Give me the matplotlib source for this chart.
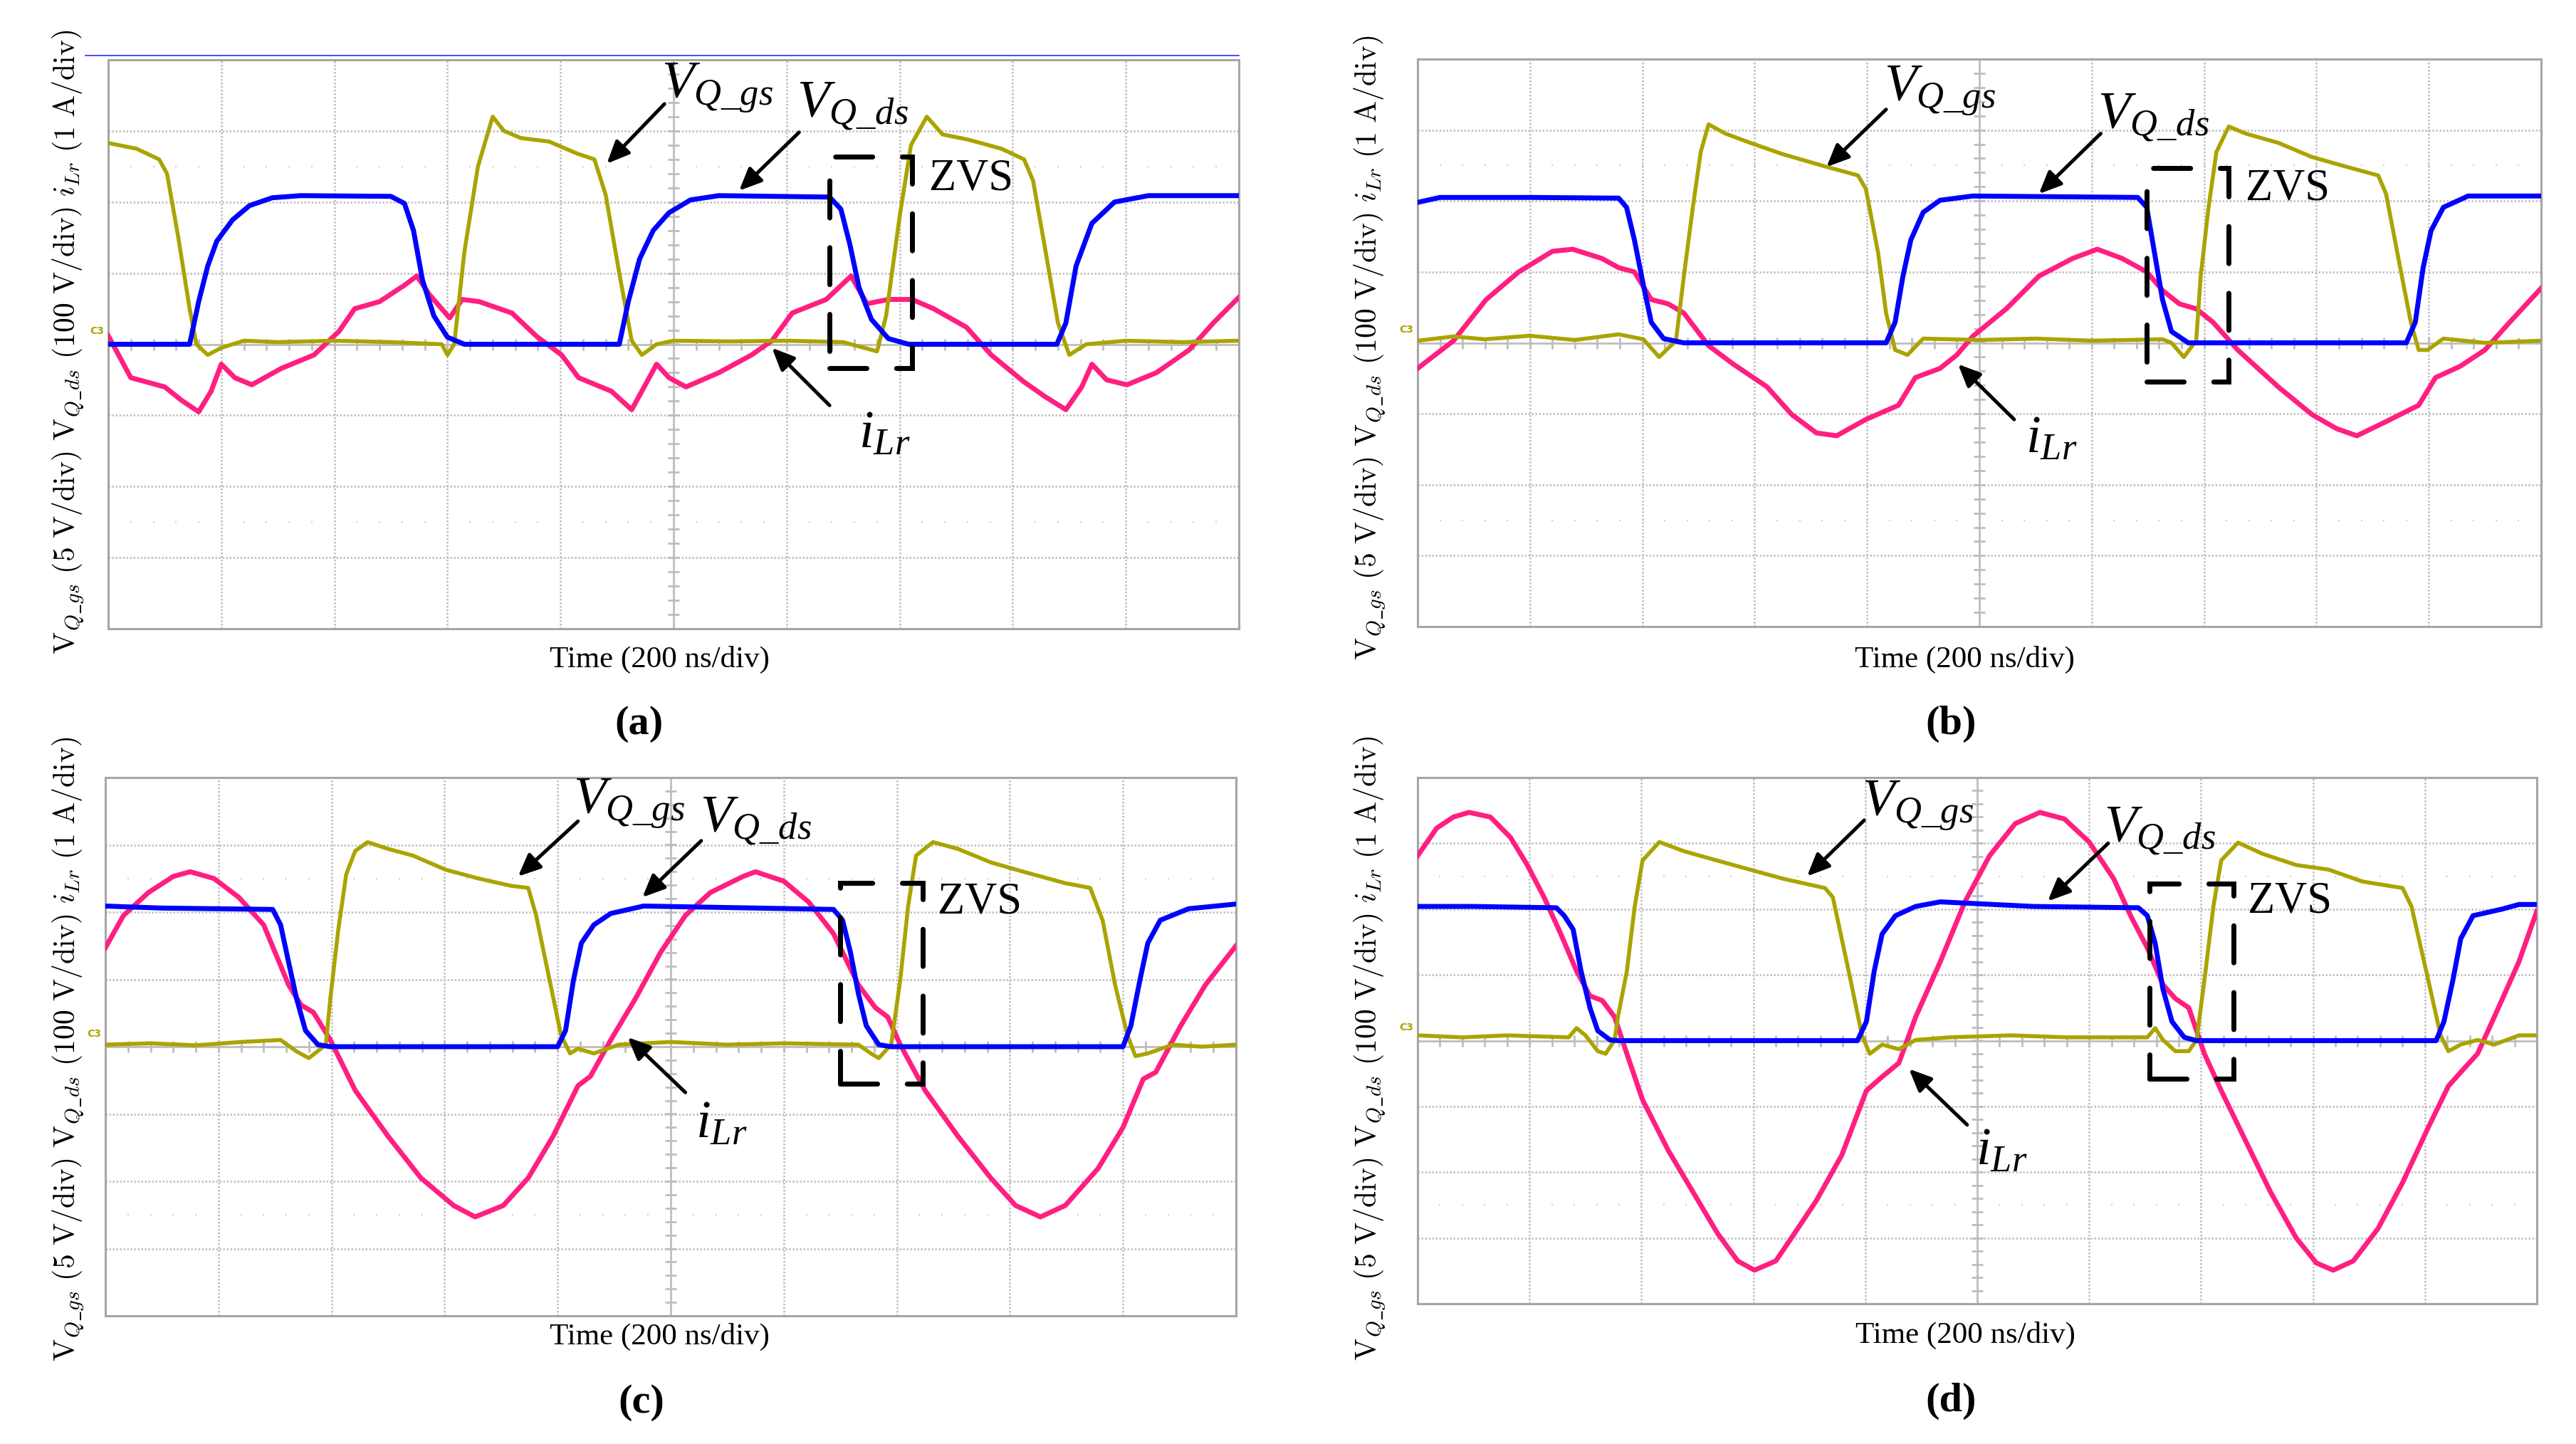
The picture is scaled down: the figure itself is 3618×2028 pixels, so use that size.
import numpy as np
import matplotlib
matplotlib.use('Agg')
import matplotlib.pyplot as plt
from matplotlib.patches import Rectangle
from matplotlib.lines import Line2D

plt.rcParams['font.family'] = ['Liberation Serif', 'DejaVu Serif']
plt.rcParams['mathtext.fontset'] = 'custom'
plt.rcParams['mathtext.rm'] = 'Liberation Serif'
plt.rcParams['mathtext.it'] = 'Liberation Serif:italic'
plt.rcParams['mathtext.bf'] = 'Liberation Serif:bold'

# ---------------- data (time in div, amplitude in div) ----------------
# panel (a)
A_VDS = [(0, 0.0), (0.72, 0.0), (0.80, 0.6), (0.88, 1.1), (0.96, 1.45), (1.1, 1.75), (1.25, 1.95),
         (1.45, 2.06), (1.7, 2.09), (2.5, 2.08), (2.62, 1.98), (2.7, 1.6), (2.78, 0.9), (2.88, 0.4),
         (3.0, 0.1), (3.15, 0.0), (4.52, 0.0), (4.60, 0.6), (4.70, 1.2), (4.82, 1.6), (4.96, 1.85),
         (5.15, 2.03), (5.4, 2.09), (6.38, 2.07), (6.48, 1.9), (6.56, 1.4), (6.64, 0.8), (6.75, 0.35),
         (6.9, 0.08), (7.08, 0.0), (8.39, 0.0), (8.47, 0.3), (8.56, 1.1), (8.7, 1.7), (8.9, 2.0),
         (9.2, 2.09), (10, 2.09)]
A_VGS = [(0, 2.83), (0.25, 2.75), (0.45, 2.6), (0.52, 2.4), (0.62, 1.5), (0.72, 0.5), (0.78, 0.0),
         (0.88, -0.15), (1.0, -0.05), (1.2, 0.05), (1.5, 0.03), (2.0, 0.05), (2.5, 0.03), (2.95, 0.0),
         (3.0, -0.15), (3.06, 0.0), (3.15, 1.3), (3.27, 2.5), (3.40, 3.2), (3.50, 3.0), (3.65, 2.9),
         (3.9, 2.85), (4.15, 2.68), (4.3, 2.6), (4.4, 2.1), (4.52, 1.0), (4.63, 0.05), (4.72, -0.15),
         (4.85, 0.0), (5.0, 0.05), (5.5, 0.04), (6.0, 0.05), (6.5, 0.03), (6.8, -0.1), (6.88, 0.4),
         (7.0, 1.8), (7.1, 2.8), (7.24, 3.2), (7.38, 2.95), (7.6, 2.88), (7.9, 2.75), (8.1, 2.6),
         (8.18, 2.3), (8.28, 1.4), (8.4, 0.3), (8.5, -0.15), (8.65, 0.0), (9.0, 0.05), (9.5, 0.03),
         (10, 0.05)]
A_ILR = [(0, 0.12), (0.2, -0.47), (0.5, -0.6), (0.65, -0.79), (0.8, -0.95), (0.91, -0.66), (1.0, -0.28),
         (1.12, -0.47), (1.27, -0.57), (1.53, -0.34), (1.82, -0.15), (2.04, 0.18), (2.18, 0.5),
         (2.40, 0.6), (2.62, 0.83), (2.73, 0.96), (2.84, 0.70), (3.02, 0.37), (3.13, 0.63), (3.28, 0.60),
         (3.57, 0.44), (3.79, 0.11), (4.01, -0.15), (4.16, -0.47), (4.45, -0.66), (4.63, -0.92),
         (4.74, -0.60), (4.85, -0.28), (4.96, -0.47), (5.11, -0.60), (5.40, -0.40), (5.69, -0.15),
         (5.87, 0.05), (6.05, 0.44), (6.35, 0.63), (6.57, 0.96), (6.71, 0.57), (6.90, 0.63), (7.11, 0.63),
         (7.30, 0.50), (7.59, 0.24), (7.81, -0.15), (8.10, -0.53), (8.28, -0.73), (8.47, -0.92),
         (8.61, -0.60), (8.70, -0.28), (8.83, -0.50), (9.01, -0.57), (9.27, -0.40), (9.56, -0.08),
         (9.78, 0.31), (10, 0.66)]

# panel (b)
B_VDS = [(0, 1.98), (0.2, 2.05), (1.0, 2.05), (1.79, 2.04), (1.86, 1.91), (1.93, 1.45), (2.01, 0.81),
         (2.08, 0.29), (2.19, 0.06), (2.37, 0.0), (4.17, 0.0), (4.25, 0.29), (4.32, 0.94), (4.39, 1.45),
         (4.50, 1.84), (4.65, 2.01), (4.94, 2.07), (6.41, 2.05), (6.49, 1.91), (6.56, 1.26), (6.63, 0.61),
         (6.71, 0.16), (6.86, 0.0), (8.80, 0.0), (8.88, 0.29), (8.95, 1.06), (9.02, 1.58), (9.13, 1.91),
         (9.35, 2.07), (10, 2.07)]
B_VGS = [(0, 0.03), (0.32, 0.09), (0.6, 0.05), (1.0, 0.1), (1.4, 0.04), (1.79, 0.12), (2.01, 0.05),
         (2.15, -0.2), (2.30, 0.03), (2.37, 0.94), (2.45, 1.91), (2.52, 2.69), (2.59, 3.08), (2.74, 2.95),
         (2.96, 2.82), (3.25, 2.66), (3.62, 2.49), (3.92, 2.36), (3.99, 2.17), (4.10, 1.26), (4.17, 0.42),
         (4.25, -0.1), (4.36, -0.17), (4.50, 0.06), (5.0, 0.04), (5.5, 0.06), (6.0, 0.03), (6.63, 0.05),
         (6.71, 0.0), (6.82, -0.2), (6.93, 0.03), (6.97, 0.94), (7.04, 1.91), (7.11, 2.69), (7.22, 3.05),
         (7.37, 2.95), (7.66, 2.82), (7.96, 2.62), (8.25, 2.49), (8.55, 2.36), (8.62, 2.10), (8.73, 1.19),
         (8.84, 0.29), (8.91, -0.1), (8.99, -0.1), (9.13, 0.06), (9.50, 0.0), (10, 0.03)]
B_ILR = [(0, -0.36), (0.32, 0.03), (0.61, 0.61), (0.90, 1.0), (1.20, 1.29), (1.38, 1.32), (1.64, 1.19),
         (1.79, 1.06), (1.93, 1.0), (2.08, 0.61), (2.23, 0.55), (2.37, 0.42), (2.59, -0.04), (2.81, -0.30),
         (3.11, -0.62), (3.33, -1.01), (3.55, -1.27), (3.73, -1.31), (3.99, -1.08), (4.28, -0.88),
         (4.43, -0.49), (4.65, -0.36), (4.80, -0.17), (4.94, 0.09), (5.24, 0.48), (5.53, 0.94),
         (5.83, 1.19), (6.05, 1.32), (6.27, 1.19), (6.49, 1.0), (6.63, 0.74), (6.78, 0.55), (6.93, 0.48),
         (7.08, 0.29), (7.30, -0.10), (7.66, -0.62), (7.96, -1.01), (8.18, -1.21), (8.36, -1.31),
         (8.62, -1.11), (8.91, -0.88), (9.06, -0.49), (9.28, -0.33), (9.50, -0.10), (9.72, 0.29),
         (10, 0.77)]

# panel (c)
C_VDS = [(0, 2.09), (0.5, 2.06), (1.0, 2.05), (1.48, 2.04), (1.55, 1.81), (1.62, 1.26), (1.69, 0.72),
         (1.77, 0.24), (1.88, 0.03), (1.99, 0.0), (4.0, 0.0), (4.07, 0.24), (4.14, 0.99), (4.21, 1.54),
         (4.32, 1.81), (4.47, 1.98), (4.76, 2.09), (6.44, 2.04), (6.52, 1.88), (6.59, 1.40), (6.66, 0.79),
         (6.73, 0.31), (6.84, 0.03), (6.95, 0.0), (9.0, 0.0), (9.07, 0.31), (9.15, 0.99), (9.22, 1.54),
         (9.33, 1.88), (9.58, 2.05), (10, 2.12)]
C_VGS = [(0, 0.03), (0.4, 0.05), (0.8, 0.02), (1.2, 0.07), (1.55, 0.1), (1.69, -0.07), (1.80, -0.17),
         (1.95, 0.03), (1.99, 0.72), (2.06, 1.74), (2.13, 2.56), (2.21, 2.91), (2.32, 3.04), (2.50, 2.94),
         (2.72, 2.84), (3.01, 2.63), (3.30, 2.50), (3.59, 2.39), (3.74, 2.36), (3.81, 1.95), (3.92, 1.06),
         (4.03, 0.17), (4.11, -0.10), (4.18, -0.03), (4.32, -0.10), (4.54, 0.03), (5.0, 0.07), (5.5, 0.03),
         (6.0, 0.05), (6.66, 0.03), (6.77, -0.10), (6.84, -0.17), (6.95, 0.03), (7.03, 0.99), (7.10, 2.09),
         (7.17, 2.84), (7.32, 3.04), (7.54, 2.94), (7.83, 2.74), (8.12, 2.60), (8.49, 2.43), (8.71, 2.36),
         (8.82, 1.88), (8.93, 0.92), (9.04, 0.17), (9.11, -0.14), (9.22, -0.10), (9.44, 0.03), (9.7, 0.0),
         (10, 0.03)]
C_ILR = [(0, 1.47), (0.16, 1.95), (0.38, 2.29), (0.60, 2.53), (0.75, 2.60), (0.96, 2.50), (1.18, 2.22),
         (1.40, 1.81), (1.62, 0.92), (1.73, 0.62), (1.84, 0.51), (1.99, 0.10), (2.21, -0.65), (2.50, -1.33),
         (2.79, -1.95), (3.08, -2.36), (3.27, -2.53), (3.52, -2.36), (3.74, -1.95), (3.96, -1.33),
         (4.18, -0.58), (4.29, -0.44), (4.47, 0.10), (4.69, 0.72), (4.91, 1.40), (5.13, 1.95), (5.35, 2.29),
         (5.64, 2.53), (5.75, 2.60), (6.0, 2.46), (6.22, 2.15), (6.44, 1.68), (6.66, 0.92), (6.81, 0.58),
         (6.92, 0.44), (7.03, 0.03), (7.25, -0.65), (7.54, -1.33), (7.83, -1.95), (8.05, -2.36),
         (8.27, -2.53), (8.49, -2.36), (8.78, -1.81), (9.0, -1.20), (9.18, -0.48), (9.29, -0.38),
         (9.51, 0.31), (9.73, 0.92), (10, 1.50)]

# panel (d)
D_VDS = [(0, 2.04), (0.5, 2.04), (1.24, 2.02), (1.31, 1.90), (1.39, 1.69), (1.46, 1.06), (1.54, 0.50),
         (1.61, 0.15), (1.72, 0.01), (1.79, 0.0), (3.93, 0.0), (4.01, 0.29), (4.08, 1.06), (4.15, 1.62),
         (4.27, 1.90), (4.45, 2.04), (4.67, 2.11), (5.5, 2.04), (6.44, 2.02), (6.52, 1.90), (6.59, 1.48),
         (6.66, 0.78), (6.74, 0.29), (6.85, 0.05), (6.96, 0.0), (9.10, 0.0), (9.17, 0.29), (9.25, 0.92),
         (9.32, 1.55), (9.43, 1.90), (9.69, 2.0), (9.84, 2.07), (10, 2.07)]
D_VGS = [(0, 0.08), (0.4, 0.05), (0.8, 0.08), (1.35, 0.05), (1.42, 0.19), (1.50, 0.08), (1.61, -0.16),
         (1.68, -0.20), (1.76, 0.01), (1.79, 0.36), (1.87, 1.06), (1.94, 2.04), (2.01, 2.74), (2.16, 3.02),
         (2.38, 2.88), (2.61, 2.77), (2.97, 2.60), (3.27, 2.46), (3.64, 2.32), (3.71, 2.18), (3.86, 0.99),
         (3.97, 0.08), (4.04, -0.20), (4.15, -0.06), (4.30, -0.13), (4.45, 0.01), (4.75, 0.05), (5.3, 0.08),
         (5.8, 0.05), (6.52, 0.05), (6.59, 0.19), (6.66, 0.01), (6.77, -0.16), (6.89, -0.16), (6.96, 0.01),
         (7.03, 0.92), (7.11, 2.04), (7.18, 2.74), (7.33, 3.01), (7.55, 2.84), (7.85, 2.67), (8.14, 2.60),
         (8.44, 2.42), (8.80, 2.32), (8.88, 2.04), (9.03, 0.92), (9.14, 0.08), (9.21, -0.16), (9.32, -0.06),
         (9.47, 0.01), (9.62, -0.06), (9.84, 0.08), (10, 0.08)]
D_ILR = [(0, 2.81), (0.17, 3.23), (0.32, 3.40), (0.46, 3.47), (0.65, 3.40), (0.83, 3.09), (0.98, 2.67),
         (1.13, 2.18), (1.28, 1.62), (1.42, 1.06), (1.54, 0.68), (1.65, 0.61), (1.76, 0.36), (1.87, -0.20),
         (2.01, -0.90), (2.24, -1.67), (2.46, -2.30), (2.68, -2.93), (2.86, -3.35), (3.01, -3.49),
         (3.20, -3.35), (3.34, -3.0), (3.56, -2.44), (3.79, -1.74), (4.01, -0.76), (4.15, -0.55),
         (4.30, -0.34), (4.45, 0.36), (4.67, 1.20), (4.89, 2.11), (5.11, 2.81), (5.34, 3.30), (5.56, 3.47),
         (5.78, 3.37), (6.0, 3.02), (6.22, 2.46), (6.37, 1.90), (6.52, 1.41), (6.66, 0.85), (6.77, 0.64),
         (6.89, 0.50), (7.03, -0.20), (7.18, -0.76), (7.40, -1.53), (7.62, -2.30), (7.85, -3.0),
         (8.03, -3.38), (8.18, -3.49), (8.36, -3.35), (8.58, -2.86), (8.80, -2.16), (9.03, -1.32),
         (9.21, -0.69), (9.32, -0.48), (9.47, -0.20), (9.62, 0.36), (9.84, 1.20), (10, 1.97)]

TIME_LABEL = 'Time (200 ns/div)'
Y_LABEL = (r'$\mathrm{V}_{Q\_gs}\ \mathrm{(5\ V/div)}\ \mathrm{V}_{Q\_ds}\ \mathrm{(100\ V/div)}\ '
           r'i_{Lr}\ \mathrm{(1\ A/div)}$')

# ---------------- layout (pixels of the 3618x2028 canvas) ----------------
W, H = 3618, 2028
panels = [
    dict(name='(a)', box=(152, 84, 1740, 883), traces=(A_ILR, A_VGS, A_VDS),
         ylab=(96, 480), tlab=(926, 926), plab=(898, 1017),
         zvs=(6.38, 7.11, -0.34, 2.64), zvs_txt=(7.26, 2.32),
         gs_txt=(4.89, 3.61), gs_arr=((4.92, 3.38), (4.41, 2.54)),
         ds_txt=(6.09, 3.35), ds_arr=((6.11, 2.98), (5.58, 2.16)),
         il_txt=(6.64, -1.28), il_arr=((6.38, -0.86), (5.87, -0.05))),
    dict(name='(b)', box=(1991, 83, 3569, 880), traces=(B_ILR, B_VGS, B_VDS),
         ylab=(1924, 488), tlab=(2759, 926), plab=(2740, 1017),
         zvs=(6.49, 7.22, -0.55, 2.46), zvs_txt=(7.37, 2.17),
         gs_txt=(4.15, 3.56), gs_arr=((4.17, 3.29), (3.64, 2.48)),
         ds_txt=(6.05, 3.18), ds_arr=((6.08, 2.95), (5.53, 2.10)),
         il_txt=(5.41, -1.37), il_arr=((5.31, -1.08), (4.81, -0.30))),
    dict(name='(c)', box=(148, 1092, 1736, 1848), traces=(C_ILR, C_VGS, C_VDS),
         ylab=(96, 1473), tlab=(926, 1877), plab=(901, 1970),
         zvs=(6.50, 7.23, -0.55, 2.43), zvs_txt=(7.36, 2.14),
         gs_txt=(4.14, 3.62), gs_arr=((4.18, 3.35), (3.65, 2.53)),
         ds_txt=(5.26, 3.35), ds_arr=((5.27, 3.06), (4.75, 2.22)),
         il_txt=(5.22, -1.16), il_arr=((5.13, -0.68), (4.62, 0.14))),
    dict(name='(d)', box=(1991, 1092, 3563, 1831), traces=(D_ILR, D_VGS, D_VDS),
         ylab=(1924, 1472), tlab=(2760, 1875), plab=(2740, 1968),
         zvs=(6.54, 7.29, -0.58, 2.39), zvs_txt=(7.42, 2.11),
         gs_txt=(3.97, 3.58), gs_arr=((3.99, 3.35), (3.48, 2.50)),
         ds_txt=(6.13, 3.19), ds_arr=((6.17, 3.00), (5.63, 2.12)),
         il_txt=(4.99, -1.70), il_arr=((4.91, -1.28), (4.39, -0.43))),
]

PINK = '#ff1f80'
OLIVE = '#aaa400'
BLUE = '#0000ff'
GRID = '#bdbdbd'
FAINT = '#cdcdcd'
FRAME = '#a6a6a6'

fig = plt.figure(figsize=(W / 100, H / 100), dpi=100)
fig.patch.set_facecolor('white')

arrow_props = dict(arrowstyle='-|>,head_length=0.95,head_width=0.42', lw=3.6, color='k',
                   mutation_scale=20, shrinkA=0, shrinkB=0)

for p in panels:
    x0, y0, x1, y1 = p['box']
    ax = fig.add_axes([x0 / W, 1 - y1 / H, (x1 - x0) / W, (y1 - y0) / H])
    ax.set_xlim(0, 10)
    ax.set_ylim(-4, 4)
    ax.set_xticks([])
    ax.set_yticks([])
    for s in ax.spines.values():
        s.set_color(FRAME)
        s.set_linewidth(2.2)

    # graticule
    for gx in range(1, 10):
        if gx == 5:
            ax.axvline(gx, color=GRID, lw=2.0, zorder=1)
        else:
            ax.axvline(gx, color=GRID, lw=1.8, ls=(0, (1.0, 1.0)), zorder=1)
    for gy in range(-3, 4):
        if gy == 0:
            ax.axhline(gy, color=GRID, lw=2.0, zorder=1)
        else:
            ax.axhline(gy, color=GRID, lw=1.8, ls=(0, (1.0, 1.0)), zorder=1)
    fine = np.arange(0.2, 10, 0.2)
    for gy in (-2.5, 2.5):
        ax.plot(fine, np.full_like(fine, gy), ls='none', marker='s', ms=1.6, mew=0, color=FAINT, zorder=1)
    vt = np.arange(-3.8, 4, 0.2)
    ax.plot(np.full_like(vt, 5.0), vt, ls='none', marker='_', ms=11, mew=2.0, color=GRID, zorder=1)
    ax.plot(fine, np.zeros_like(fine), ls='none', marker='|', ms=11, mew=2.0, color=GRID, zorder=1)

    # traces
    ilr, vgs, vds = (np.array(t, dtype=float).T for t in p['traces'])
    ax.plot(ilr[0], ilr[1], color=PINK, lw=5.0, solid_joinstyle='round', zorder=3)
    ax.plot(vgs[0], vgs[1], color=OLIVE, lw=4.0, solid_joinstyle='round', zorder=4)
    ax.plot(vds[0], vds[1], color=BLUE, lw=5.0, solid_joinstyle='round', zorder=5)

    # ground marker
    ax.text(-0.004, 0.515, 'C3', transform=ax.transAxes, ha='right', va='bottom',
            fontsize=10, color=OLIVE, fontweight='bold', family='DejaVu Sans')

    # ZVS box
    zx0, zx1, zy0, zy1 = p['zvs']
    rect = Rectangle((zx0, zy0), zx1 - zx0, zy1 - zy0, fill=False, ec='k', lw=5.0,
                     ls=(0, (7.5, 6.0)), zorder=6)
    rect.set_capstyle('round')
    ax.add_patch(rect)
    ax.text(*p['zvs_txt'], 'ZVS', fontsize=45, ha='left', va='center', zorder=7)

    # labels + arrows
    ax.text(*p['gs_txt'], r'$V_{Q\_gs}$', fontsize=54, ha='left', va='center', zorder=7)
    ax.annotate('', xy=p['gs_arr'][1], xytext=p['gs_arr'][0], arrowprops=arrow_props, zorder=7)
    ax.text(*p['ds_txt'], r'$V_{Q\_ds}$', fontsize=54, ha='left', va='center', zorder=7)
    ax.annotate('', xy=p['ds_arr'][1], xytext=p['ds_arr'][0], arrowprops=arrow_props, zorder=7)
    ax.text(*p['il_txt'], r'$i_{Lr}$', fontsize=54, ha='left', va='center', zorder=7)
    ax.annotate('', xy=p['il_arr'][1], xytext=p['il_arr'][0], arrowprops=arrow_props, zorder=7)

    # outer labels
    fig.text(p['ylab'][0] / W, 1 - p['ylab'][1] / H, Y_LABEL, rotation=90, ha='center', va='center',
             fontsize=30, math_fontfamily='cm')
    fig.text(p['tlab'][0] / W, 1 - p['tlab'][1] / H, TIME_LABEL, ha='center', va='center', fontsize=31)
    fig.text(p['plab'][0] / W, 1 - p['plab'][1] / H, p['name'], ha='center', va='center',
             fontsize=42, fontweight='bold')

# thin blue line above panel (a)
fig.add_artist(Line2D([120 / W, 1740 / W], [1 - 78 / H, 1 - 78 / H], color='#2a2aff', lw=1.2))

fig.savefig('out.png', dpi=100, facecolor='white')
